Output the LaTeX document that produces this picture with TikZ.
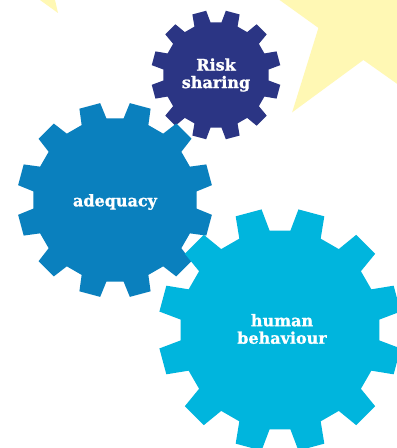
\documentclass[tikz,border=0pt]{standalone}
\usepackage{fontspec}
\setmainfont{DejaVu Serif}
\newfontfamily\labelfont{DejaVu Serif Bold}[FakeBold=1.2]
\definecolor{navy}{HTML}{2B3584}
\definecolor{midblue}{HTML}{0A80BE}
\definecolor{skyblue}{HTML}{00B5DD}
\definecolor{paleyellow}{HTML}{FFF8B4}
\tikzset{
  geartext/.style={text=white, font=\labelfont\fontsize{16}{17.5}\selectfont, align=center, inner sep=0pt},
  star/.style={fill=paleyellow, draw=none}
}
% #1 centre, #2 tip radius, #3 root radius, #4 fill colour
\newcommand\cogwheel[4]{%
  \begin{scope}[shift={#1}]
    \fill[#4] ({15-9}:#3)
      \foreach \k in {0,...,11}{
        -- ({15+30*\k-9}:#3) -- ({15+30*\k-6.3}:#2)
        -- ({15+30*\k+6.3}:#2) -- ({15+30*\k+9}:#3)
      } -- cycle;
  \end{scope}}
\begin{document}
\begin{tikzpicture}[x=1pt,y=1pt]
  \useasboundingbox (0,0) rectangle (397,448);
  \clip (0,0) rectangle (397,448);
  \fill[white] (0,0) rectangle (397,448);
  % background stars
  \fill[star] (58,435) -- (22,461) -- (52,461) -- cycle;
  \begin{scope}[shift={(363,435)}]
    \fill[star] (234.5:122)
      \foreach \k in {0,...,4}{
        -- ({234.5+72*\k}:122) -- ({270.5+72*\k}:47)
      } -- cycle;
  \end{scope}
  % gears
  \cogwheel{(216,373)}{65}{53}{navy}
  \cogwheel{(115,248)}{98}{82}{midblue}
  \cogwheel{(280,118)}{122}{100}{skyblue}
  % labels
  \node[geartext] (risk) at (216,373) {Risk\\sharing};
  \node[geartext] (adequacy) at (115,246) {adequacy};
  \node[geartext] (human) at (282,119) {human\\behaviour};
\end{tikzpicture}
\end{document}
